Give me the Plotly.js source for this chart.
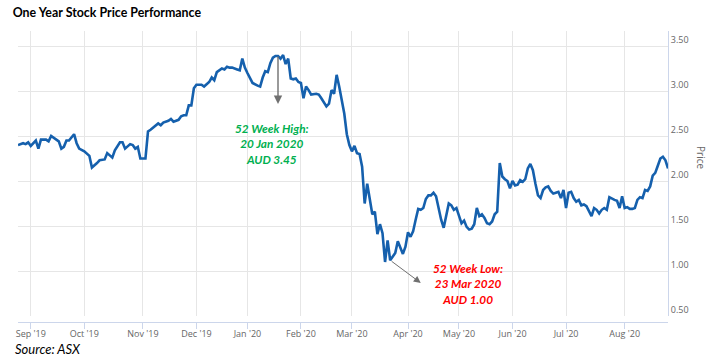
<!DOCTYPE html>
<html><head><meta charset="utf-8">
<script src="https://cdn.plot.ly/plotly-3.0.1.min.js"></script>
<style>html,body{margin:0;padding:0;background:#fff}#chart{width:711px;height:364px}</style>
</head><body><div id="chart"></div>
<script>
const dates = [
'2019-08-26','2019-08-28','2019-08-29','2019-08-30','2019-09-02','2019-09-04','2019-09-05','2019-09-06','2019-09-10','2019-09-11',
'2019-09-12','2019-09-16','2019-09-17','2019-09-18','2019-09-19','2019-09-20','2019-09-23','2019-09-25','2019-09-26','2019-09-27',
'2019-10-01','2019-10-03','2019-10-04','2019-10-08','2019-10-09','2019-10-11','2019-10-14','2019-10-16','2019-10-17','2019-10-21',
'2019-10-22','2019-10-23','2019-10-25','2019-10-28','2019-10-29','2019-10-30','2019-10-31','2019-11-04','2019-11-05','2019-11-06',
'2019-11-07','2019-11-08','2019-11-11','2019-11-12','2019-11-13','2019-11-15','2019-11-18','2019-11-19','2019-11-20','2019-11-21',
'2019-11-22','2019-11-25','2019-11-26','2019-11-27','2019-11-28','2019-11-29','2019-12-02','2019-12-04','2019-12-05','2019-12-09',
'2019-12-10','2019-12-11','2019-12-12','2019-12-16','2019-12-17','2019-12-18','2019-12-19','2019-12-20','2019-12-24','2019-12-27',
'2019-12-30','2019-12-31','2020-01-02','2020-01-03','2020-01-06','2020-01-08','2020-01-09','2020-01-10','2020-01-13','2020-01-14',
'2020-01-15','2020-01-16','2020-01-17','2020-01-20','2020-01-21','2020-01-22','2020-01-23','2020-01-24','2020-01-28','2020-01-29',
'2020-01-30','2020-01-31','2020-02-03','2020-02-04','2020-02-05','2020-02-06','2020-02-07','2020-02-11','2020-02-12','2020-02-13',
'2020-02-17','2020-02-18','2020-02-19','2020-02-20','2020-02-21','2020-02-24','2020-02-25','2020-02-26','2020-02-27','2020-02-28',
'2020-03-02','2020-03-03','2020-03-04','2020-03-05','2020-03-06','2020-03-09','2020-03-10','2020-03-11','2020-03-12','2020-03-13',
'2020-03-16','2020-03-17','2020-03-18','2020-03-19','2020-03-20','2020-03-23','2020-03-24','2020-03-25','2020-03-26','2020-03-27',
'2020-03-30','2020-03-31','2020-04-01','2020-04-02','2020-04-03','2020-04-06','2020-04-07','2020-04-08','2020-04-09','2020-04-14',
'2020-04-15','2020-04-16','2020-04-17','2020-04-20','2020-04-21','2020-04-22','2020-04-23','2020-04-24','2020-04-27','2020-04-28',
'2020-04-29','2020-04-30','2020-05-01','2020-05-04','2020-05-05','2020-05-06','2020-05-07','2020-05-08','2020-05-11','2020-05-12',
'2020-05-13','2020-05-14','2020-05-15','2020-05-18','2020-05-19','2020-05-20','2020-05-21','2020-05-22','2020-05-25','2020-05-26',
'2020-05-27','2020-05-28','2020-05-29','2020-06-01','2020-06-02','2020-06-03','2020-06-04','2020-06-05','2020-06-09','2020-06-10',
'2020-06-11','2020-06-12','2020-06-15','2020-06-16','2020-06-17','2020-06-18','2020-06-19','2020-06-22','2020-06-23','2020-06-24',
'2020-06-25','2020-06-26','2020-06-29','2020-06-30','2020-07-01','2020-07-02','2020-07-03','2020-07-06','2020-07-07','2020-07-08',
'2020-07-09','2020-07-10','2020-07-13','2020-07-14','2020-07-15','2020-07-16','2020-07-17','2020-07-20','2020-07-21','2020-07-22',
'2020-07-23','2020-07-24','2020-07-27','2020-07-28','2020-07-29','2020-07-30','2020-07-31','2020-08-03','2020-08-04','2020-08-05',
'2020-08-06','2020-08-07','2020-08-10','2020-08-11','2020-08-12','2020-08-13','2020-08-14','2020-08-17','2020-08-18','2020-08-19',
'2020-08-20','2020-08-21','2020-08-24','2020-08-25','2020-08-26'
];
const prices = [
2.40,2.42,2.41,2.43,2.39,2.45,2.36,2.46,2.46,2.44,
2.50,2.46,2.44,2.36,2.38,2.45,2.45,2.52,2.42,2.36,
2.33,2.28,2.15,2.20,2.23,2.24,2.31,2.26,2.34,2.43,
2.43,2.36,2.41,2.40,2.36,2.38,2.25,2.25,2.55,2.57,
2.59,2.62,2.64,2.62,2.65,2.67,2.69,2.66,2.67,2.68,
2.72,2.73,2.73,2.84,2.84,3.03,3.07,3.07,3.05,3.10,
3.15,3.12,3.21,3.25,3.24,3.27,3.26,3.26,3.24,3.23,
3.36,3.26,3.20,3.15,3.09,3.06,3.05,3.15,3.22,3.21,
3.31,3.37,3.39,3.39,3.36,3.40,3.30,3.36,3.14,3.13,
3.14,3.10,3.09,2.92,3.05,3.01,2.96,2.97,2.96,2.92,
2.83,2.86,3.01,2.97,3.18,3.05,2.90,2.75,2.52,2.40,
2.33,2.39,2.31,2.30,2.16,1.75,1.97,1.79,1.63,1.66,
1.41,1.52,1.42,1.10,1.34,1.12,1.16,1.20,1.33,1.25,
1.19,1.27,1.43,1.38,1.44,1.57,1.69,1.68,1.70,1.80,
1.84,1.84,1.87,1.83,1.68,1.57,1.48,1.60,1.75,1.73,
1.68,1.70,1.60,1.53,1.56,1.49,1.46,1.47,1.52,1.70,
1.61,1.63,1.59,1.53,1.52,1.55,1.63,1.66,2.20,2.05,
2.02,2.00,1.92,2.00,1.95,1.96,2.01,1.99,2.02,2.14,
2.19,2.12,1.97,1.84,1.81,1.90,1.93,1.94,1.89,1.86,
1.87,1.88,1.81,1.90,1.70,1.87,1.88,1.81,1.77,1.79,
1.73,1.74,1.72,1.66,1.61,1.70,1.68,1.64,1.68,1.70,
1.68,1.82,1.80,1.79,1.78,1.70,1.83,1.70,1.71,1.69,
1.69,1.70,1.79,1.82,1.81,1.90,1.89,1.94,2.06,2.09,
2.17,2.25,2.27,2.23,2.14
];
const tickDates = ['2019-09-02','2019-10-01','2019-11-01','2019-12-02','2020-01-02','2020-02-03',
  '2020-03-02','2020-04-01','2020-05-01','2020-06-01','2020-07-01','2020-08-03'];
const tickLabels = ["Sep '19","Oct '19","Nov '19","Dec '19","Jan '20","Feb '20",
  "Mar '20","Apr '20","May '20","Jun '20","Jul '20","Aug '20"];
const holidays = ['2019-12-25','2019-12-26','2020-01-01','2020-01-27','2020-04-10','2020-04-13','2020-06-08'];
const priceTicks = [0.5,1.0,1.5,2.0,2.5,3.0,3.5];
const highLabel = '52 Week High:<br>20 Jan 2020<br>AUD 3.45';
const lowLabel = '52 Week Low:<br>23 Mar 2020<br>AUD 1.00';

const trace = {
  x: dates, y: prices, type: 'scatter', mode: 'lines',
  line: {color: '#1560ad', width: 2.6}, hoverinfo: 'skip'
};
const axisFont = {family: 'Open Sans, sans-serif', size: 9, color: '#666666'};
const layout = {
  width: 711, height: 364,
  margin: {l: 18, r: 43, t: 31, b: 42},
  paper_bgcolor: '#ffffff', plot_bgcolor: '#ffffff',
  showlegend: false,
  title: {text: '<b>One Year Stock Price Performance</b>', xref: 'container', yref: 'container',
    x: 0.0179, xanchor: 'left', y: 0.9657, yanchor: 'middle',
    font: {family: 'Lato, sans-serif', size: 12.4, color: '#000000'}},
  xaxis: {
    type: 'date', range: [dates[0], dates[dates.length - 1]],
    rangebreaks: [{bounds: ['sat', 'mon']}, {values: holidays}],
    tickmode: 'array', tickvals: tickDates, ticktext: tickLabels,
    ticks: 'outside', ticklen: 6, tickcolor: '#ccd6eb', tickwidth: 1,
    ticklabelstandoff: -3,
    showline: true, linecolor: '#ccd6eb', linewidth: 1,
    showgrid: true, gridcolor: '#e6e6e6', gridwidth: 1, zeroline: false,
    anchor: 'free', position: 0, tickfont: axisFont
  },
  yaxis: {
    side: 'right', range: [0.5, 3.667], domain: [6 / 291, 1],
    tickmode: 'array', tickvals: priceTicks, tickformat: '.2f',
    showline: true, linecolor: '#ccd6eb', linewidth: 1,
    showgrid: true, gridcolor: '#e6e6e6', gridwidth: 1, zeroline: false,
    ticks: '', ticklabelposition: 'outside top', tickfont: axisFont
  },
  annotations: [
    {text: '<i>Source: ASX</i>', xref: 'paper', yref: 'paper', x: -0.0082, y: -0.092,
     xanchor: 'left', yanchor: 'middle', showarrow: false,
     font: {family: 'Lato, sans-serif', size: 13, color: '#000000'}},
    {text: 'Price', xref: 'paper', yref: 'paper', x: 1.0507, y: 0.5636, textangle: 90,
     xanchor: 'center', yanchor: 'middle', showarrow: false,
     font: {family: 'Open Sans, sans-serif', size: 10, color: '#666666'}},
    {text: '<b><i>' + highLabel + '</i></b>', xref: 'paper', yref: 'paper', x: 0.3908, y: 0.610,
     xanchor: 'center', yanchor: 'middle', showarrow: false,
     font: {family: 'Lato, sans-serif', size: 11.8, color: '#00B050'}},
    {text: '<b><i>' + lowLabel + '</i></b>', xref: 'paper', yref: 'paper', x: 0.6923, y: 0.1289,
     xanchor: 'center', yanchor: 'middle', showarrow: false,
     font: {family: 'Lato, sans-serif', size: 11.8, color: '#FF0000'}},
    {text: '', xref: 'x', yref: 'y', axref: 'x', ayref: 'y',
     x: '2020-01-20', y: 2.856, ax: '2020-01-20', ay: 3.40,
     showarrow: true, arrowhead: 2, arrowsize: 1.2, arrowwidth: 1.4, arrowcolor: '#707070'},
    {text: '', xref: 'x', yref: 'y', axref: 'x', ayref: 'y',
     x: '2020-04-08', y: 0.867, ax: '2020-03-23', ay: 1.12,
     showarrow: true, arrowhead: 2, arrowsize: 1.4, arrowwidth: 1, arrowcolor: '#707070'}
  ]
};
Plotly.newPlot('chart', [trace], layout, {displayModeBar: false, staticPlot: true});
</script>
</body></html>
